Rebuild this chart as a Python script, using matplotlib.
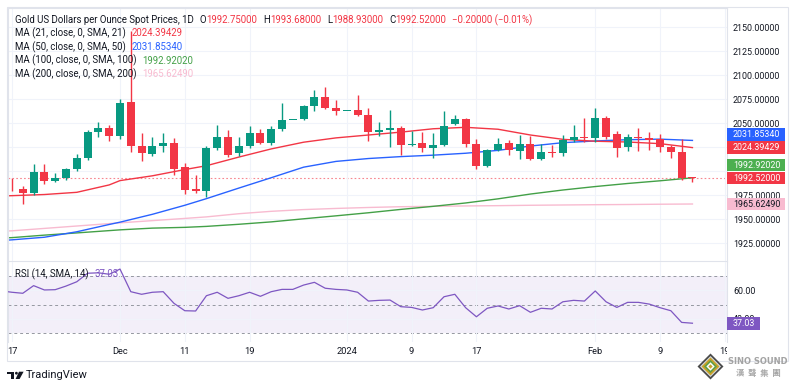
import numpy as np
import matplotlib
matplotlib.use("Agg")
import matplotlib.pyplot as plt
from matplotlib.patches import Rectangle, Polygon, Circle
from matplotlib.ticker import FuncFormatter
from matplotlib.transforms import Bbox, TransformedBbox, Affine2D
from matplotlib.transforms import blended_transform_factory as blend

W, H = 797, 389
plt.rcParams['font.family'] = ['Roboto', 'DejaVu Sans']
FS = 6.4      # scale labels
LFS = 6.9     # legend texts
TXT = '#131722'
UP, DOWN = '#089981', '#f23645'
GRID = '#f0f3fa'
EDGE = '#e0e3eb'
C21, C50, C100, C200 = '#f23645', '#2962ff', '#43a047', '#f8bbd0'
RSIC = '#7e57c2'

# ---------------- data ----------------
# bar 0 = Nov 17 2023 ... bar 63 = Feb 14 2024 (daily, weekdays)
tick_idx = [0, 10, 16, 22, 31, 37, 43, 54, 60, 66]
tick_labels = ['17', 'Dec', '11', '19', '2024', '9', '17', 'Feb', '9', '19']

opens = [1981.5, 1981.5, 1977.5, 1998.5, 1990.0, 1992.5, 2002.0, 2013.5, 2041.0, 2044.5,
         2036.0, 2071.5, 2026.0, 2018.0, 2026.0, 2029.5, 2004.5, 1981.0, 1979.0, 2023.5,
         2035.7, 2018.5, 2026.0, 2040.0, 2029.0, 2044.0, 2053.0, 2054.5, 2067.5, 2077.5,
         2066.0, 2062.5, 2063.5, 2058.0, 2041.0, 2043.0, 2045.0, 2027.0, 2029.0, 2024.0,
         2027.5, 2049.0, 2054.0, 2028.0, 2005.5, 2022.0, 2029.0, 2021.0, 2028.0, 2012.5,
         2019.5, 2018.5, 2032.5, 2035.5, 2034.5, 2055.0, 2038.5, 2024.7, 2035.0, 2034.0,
         2033.0, 2024.7, 2019.5, 1992.75]
highs = [1993.0, 1984.0, 2007.0, 2007.5, 1997.5, 2003.5, 2018.0, 2043.0, 2051.5, 2047.5,
         2075.0, 2146.0, 2040.0, 2035.5, 2040.0, 2034.5, 2008.0, 1995.5, 2026.0, 2047.5,
         2043.0, 2035.0, 2047.0, 2043.5, 2047.0, 2071.0, 2053.5, 2069.0, 2084.0, 2088.0,
         2074.0, 2062.5, 2079.0, 2065.5, 2051.0, 2064.0, 2046.5, 2041.5, 2040.5, 2039.5,
         2062.5, 2058.0, 2055.0, 2033.0, 2023.0, 2034.0, 2032.5, 2037.0, 2036.0, 2028.0,
         2027.0, 2037.5, 2048.0, 2055.5, 2065.5, 2057.0, 2041.5, 2039.0, 2044.5, 2040.5,
         2038.5, 2027.0, 2033.0, 1993.68]
lows = [1979.5, 1966.0, 1975.0, 1986.0, 1989.0, 1990.5, 2000.0, 2011.5, 2035.5, 2031.5,
        2033.5, 2020.0, 2010.0, 2016.0, 2020.0, 1996.0, 1976.0, 1977.5, 1973.0, 2022.0,
        2015.0, 2015.5, 2024.0, 2028.0, 2027.0, 2042.0, 2053.0, 2053.0, 2062.5, 2065.0,
        2058.0, 2062.5, 2057.0, 2031.0, 2036.0, 2024.5, 2016.7, 2026.0, 2020.0, 2013.5,
        2026.0, 2047.5, 2024.5, 2002.0, 2004.5, 2020.5, 2017.0, 2012.0, 2011.5, 2011.0,
        2015.0, 2016.0, 2030.5, 2030.5, 2030.5, 2033.0, 2014.5, 2021.0, 2021.0, 2021.5,
        2020.0, 2013.2, 1990.6, 1988.93]
closes = [1980.8, 1977.5, 1998.5, 1990.0, 1992.5, 2002.0, 2013.5, 2041.0, 2044.5, 2036.0,
          2071.0, 2026.0, 2019.0, 2026.0, 2029.5, 2002.5, 1980.0, 1979.0, 2023.5, 2035.7,
          2016.7, 2026.0, 2040.0, 2029.5, 2044.0, 2053.5, 2053.5, 2067.5, 2077.5, 2066.0,
          2062.5, 2062.5, 2058.0, 2040.5, 2042.7, 2044.5, 2027.0, 2028.0, 2024.0, 2027.5,
          2047.0, 2054.0, 2028.0, 2005.5, 2022.0, 2028.0, 2022.0, 2028.0, 2012.5, 2019.5,
          2018.5, 2032.5, 2035.0, 2034.5, 2055.0, 2035.5, 2024.3, 2035.0, 2034.0, 2032.7,
          2024.7, 2019.5, 1992.72, 1992.52]

# moving averages sampled at these bars
ma_idx = [-1, 0, 3, 6, 9, 10, 13, 16, 18, 21, 24, 27, 30, 33, 36, 39, 42, 45, 48, 51,
          54, 57, 60, 63]
ma21 = [1974.0, 1974.3, 1975.5, 1977.8, 1985.5, 1990.0, 1995.0, 2001.5, 2005.5, 2014.5,
        2023.0, 2030.0, 2034.5, 2037.5, 2040.5, 2044.0, 2045.5, 2043.5, 2037.5, 2033.0,
        2031.0, 2030.2, 2028.5, 2024.39429]
ma50 = [1927.5, 1928.3, 1931.0, 1936.7, 1944.3, 1946.7, 1954.9, 1964.3, 1971.2, 1982.2,
        1993.0, 2004.0, 2010.0, 2013.0, 2015.0, 2016.5, 2018.5, 2021.5, 2026.0, 2029.5,
        2031.3, 2032.6, 2033.2, 2031.85340]
ma100 = [1930.2, 1930.6, 1933.2, 1935.5, 1937.9, 1938.7, 1940.5, 1941.3, 1942.3, 1944.5,
         1947.0, 1950.2, 1953.3, 1956.5, 1960.0, 1963.2, 1966.7, 1971.0, 1976.0, 1980.2,
         1983.8, 1987.0, 1989.8, 1992.92020]
ma200 = [1937.3, 1937.7, 1940.2, 1942.7, 1945.2, 1946.0, 1948.3, 1950.6, 1952.2, 1955.5,
         1958.0, 1959.8, 1961.0, 1962.0, 1962.8, 1963.2, 1963.6, 1963.9, 1964.3, 1964.6,
         1964.9, 1965.1, 1965.4, 1965.62490]

# RSI(14), bars -1 .. 63
rsi = [59.5, 58.5, 57.8, 63.1, 60.1, 60.3, 62.8, 65.8, 71.7, 72.0, 71.0,
       74.6, 58.9, 57.1, 58.5, 58.9, 50.8, 45.7, 45.5, 56.1, 58.5,
       54.3, 56.1, 58.5, 55.7, 58.9, 60.5, 60.5, 63.5, 65.4, 61.3,
       60.5, 60.1, 58.5, 52.4, 52.9, 53.1, 48.5, 48.0, 46.2, 47.8,
       55.4, 57.1, 47.8, 41.5, 47.4, 49.0, 46.9, 49.2, 44.6, 47.4,
       46.9, 51.9, 52.9, 52.4, 59.4, 51.9, 48.0, 51.5, 51.5, 50.3,
       47.8, 45.7, 37.6, 37.03]

# price levels whose scale labels sit under the value tags
hidden_levels = [2000, 2025]


def fx(px):
    return px / W


def fy(py):
    return 1 - py / H


fig = plt.figure(figsize=(W / 100, H / 100), dpi=100)
fig.patch.set_facecolor('white')
PX = Affine2D().scale(1 / W, -1 / H).translate(0, 1) + fig.transFigure

ax = fig.add_axes([fx(8), fy(261), fx(727) - fx(8), fy(8) - fy(261)])
rs = fig.add_axes([fx(8), fy(342), fx(727) - fx(8), fy(262) - fy(342)], sharex=ax)

##### price pane
idx = np.arange(len(closes))
o, h, l, c = map(np.array, (opens, highs, lows, closes))
col = np.where(c >= o, UP, DOWN)
ax.vlines(idx, l, h, colors=col, lw=1.0, zorder=3)
ax.bar(idx, np.maximum(np.abs(c - o), 0.9), bottom=np.minimum(o, c), width=0.74,
       color=col, linewidth=0, zorder=4)

ax.plot(ma_idx, ma200, color=C200, lw=1.0, zorder=2)
ax.plot(ma_idx, ma100, color=C100, lw=1.0, zorder=2)
ax.plot(ma_idx, ma50, color=C50, lw=1.0, zorder=2)
ax.plot(ma_idx, ma21, color=C21, lw=1.0, zorder=2)
ax.axhline(closes[-1], color=DOWN, lw=0.8, ls=(0, (1.5, 2)), alpha=0.6, zorder=1)

ax.set_xlim(-0.37, 66.2)
ax.set_ylim(1906.25, 2169.8)
ax.set_yticks(np.arange(1925, 2151, 25))
ax.set_xticks(tick_idx)
ax.yaxis.set_major_formatter(FuncFormatter(
    lambda v, p: '' if round(v) in hidden_levels else f'{v:.5f}'))
ax.grid(color=GRID, lw=0.8, zorder=0)
ax.tick_params(axis='x', length=0, labelbottom=False)
ax.tick_params(axis='y', length=0, left=False, labelleft=False, right=False,
               labelright=True, pad=4.3, labelsize=FS, labelcolor=TXT)

##### RSI pane
rs.axhspan(30, 70, color=RSIC, alpha=0.09, lw=0, zorder=0)
for lvl in (30, 50, 70):
    rs.axhline(lvl, color='#9598a1', lw=0.7, ls=(0, (3, 3)), zorder=1)
rs.plot(np.arange(-1, len(rsi) - 1), rsi, color=RSIC, lw=0.9, zorder=3)
rs.set_ylim(24, 79.5)
rs.set_yticks([40, 60])
rs.yaxis.set_major_formatter(FuncFormatter(lambda v, p: f'{v:.2f}'))
rs.grid(color=GRID, lw=0.8, zorder=0)
rs.tick_params(axis='x', length=0, labelbottom=False)
rs.tick_params(axis='y', length=0, left=False, labelleft=False, right=False,
               labelright=True, pad=4.3, labelsize=FS, labelcolor=TXT)

for a in (ax, rs):
    a.set_facecolor('none')
    for s in a.spines.values():
        s.set_color(EDGE)
        s.set_linewidth(0.8)
rs.spines['top'].set_visible(False)
rs.spines['bottom'].set_visible(False)

# outer frame
fig.add_artist(Rectangle((7, 361), 781, -354, transform=PX, fill=False, ec=EDGE, lw=0.8))

# time axis labels (last one cut by the price scale)
clip = TransformedBbox(Bbox([[0, 0], [fx(727), 1]]), fig.transFigure)
ttr = blend(rs.transData, fig.transFigure)
for i, lab in zip(tick_idx, tick_labels):
    t = fig.text(i, fy(352), lab, transform=ttr, ha='center', va='center',
                 fontsize=FS + 0.3, color=TXT)
    t.set_clip_box(clip)
    t.set_clip_on(True)


##### price scale tags
def tag(axis, val, label, fc, tc, shift_px=0, right=785):
    ppu = axis.get_window_extent().height / np.ptp(axis.get_ylim())
    y = val + shift_px / ppu
    half = 6.3 / ppu
    tr = blend(fig.transFigure, axis.transData)
    fig.add_artist(Rectangle((fx(727), y - half), fx(right) - fx(727), 2 * half,
                             transform=tr, fc=fc, ec='none', zorder=4))
    fig.text(fx(733), y, label, transform=tr, color=tc, fontsize=FS,
             ha='left', va='center', zorder=5)


tag(ax, ma50[-1], f'{ma50[-1]:.5f}', C50, 'white', shift_px=6.2)
tag(ax, ma21[-1], f'{ma21[-1]:.5f}', C21, 'white')
tag(ax, ma100[-1], f'{ma100[-1]:.5f}', '#4caf50', 'white', shift_px=12.6)
tag(ax, closes[-1], f'{closes[-1]:.5f}', DOWN, 'white')
tag(ax, ma200[-1], f'{ma200[-1]:.5f}', C200, TXT)
tag(rs, rsi[-1], f'{rsi[-1]:.2f}', RSIC, 'white', right=760)


##### legend texts
def run(x_px, y_px, parts, size=LFS):
    r = fig.canvas.get_renderer()
    for s, color, gap in parts:
        t = fig.text(fx(x_px), fy(y_px), s, color=color, fontsize=size,
                     ha='left', va='center', zorder=6)
        x_px += t.get_window_extent(r).width + gap


chg = closes[-1] - closes[-2]
pct = chg / closes[-2] * 100
run(15, 20, [('Gold US Dollars per Ounce Spot Prices, 1D', TXT, 6),
             ('O', TXT, 0), (f'{opens[-1]:.5f}', DOWN, 6),
             ('H', TXT, 0), (f'{highs[-1]:.5f}', DOWN, 6),
             ('L', TXT, 0), (f'{lows[-1]:.5f}', DOWN, 6),
             ('C', TXT, 0), (f'{closes[-1]:.5f}', DOWN, 6),
             (f'{chg:.5f} ({pct:.2f}%)'.replace('-', '\u2212'), DOWN, 0)])
run(15, 33.5, [('MA (21, close, 0, SMA, 21)', TXT, 6), (f'{ma21[-1]:.5f}', C21, 0)])
run(15, 47, [('MA (50, close, 0, SMA, 50)', TXT, 6), (f'{ma50[-1]:.5f}', C50, 0)])
run(15, 60.7, [('MA (100, close, 0, SMA, 100)', TXT, 6), (f'{ma100[-1]:.5f}', C100, 0)])
run(15, 74, [('MA (200, close, 0, SMA, 200)', TXT, 6), (f'{ma200[-1]:.5f}', C200, 0)])
run(15, 274, [('RSI (14, SMA, 14)', TXT, 6), (f'{rsi[-1]:.2f}', RSIC, 0)])

##### footer: TradingView mark
for p in (Rectangle((7.5, 371.7), 6.3, 2.8, transform=PX),
          Rectangle((10.6, 371.7), 3.2, 7.3, transform=PX),
          Circle((16.4, 373.2), 1.4, transform=PX),
          Polygon([(19.0, 371.7), (23.6, 371.7), (19.6, 379.0), (15.6, 379.0)], transform=PX)):
    p.set_facecolor(TXT)
    p.set_edgecolor('none')
    fig.add_artist(p)
fig.text(fx(26), fy(375.5), 'TradingView', fontsize=8, color=TXT, ha='left', va='center')

##### watermark logo
cx, cy = 710.5, 366.5
for r, fc in ((13, '#4a4a4a'), (10.5, '#d7dbe0'), (9, '#c9a227'), (6.5, '#5f9e45'),
              (4.2, 'white'), (2.2, '#c9a227')):
    fig.add_artist(Polygon([(cx, cy - r), (cx + r, cy), (cx, cy + r), (cx - r, cy)],
                           transform=PX, fc=fc, ec='none'))
fig.text(fx(758), fy(362), 'SINO SOUND', fontsize=6.0, fontweight='bold', color='#a3a3a3',
         ha='center', va='center', family=['DejaVu Sans'])
fig.text(fx(758), fy(373.5), '漢  聲  集  團', fontsize=6.0, fontweight='bold', color='#a8a8a8',
         ha='center', va='center', family=['Noto Sans CJK TC', 'DejaVu Sans'])

fig.savefig('out.png', dpi=100, facecolor='white')
